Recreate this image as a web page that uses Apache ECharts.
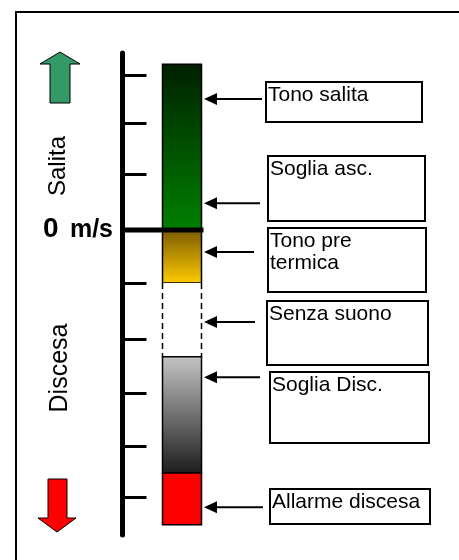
<!DOCTYPE html>
<html>
<head>
<meta charset="utf-8">
<script src="https://cdn.jsdelivr.net/npm/echarts@6/dist/echarts.min.js"></script>
<style>
html,body{margin:0;padding:0;background:#fff;}
#c{width:459px;height:560px;}
</style>
</head>
<body>
<div id="c"></div>
<script>
// ---- data (m/s scale) ----
const segNames = ['Salita', 'Pre termica', 'Senza suono', 'Discesa', 'Allarme'];
const segTop = [3.1, 0, -0.99, -2.37, -4.54];
const segBottom = [0, -0.99, -2.37, -4.54, -5.51];
const tickValues = [2.9, 2.0, 1.05, -1.0, -2.05, -3.05, -4.05, -5.0];
const arrowValues = [2.45, 0.5, -0.41, -1.72, -2.75, -5.18];
const boxLabels = ['Tono salita', 'Soglia asc.', 'Tono pre\ntermica', 'Senza suono', 'Soglia Disc.', 'Allarme discesa'];
const zeroLabelNum = '0';
const zeroLabelUnit = 'm/s';
const sideLabels = ['Salita', 'Discesa'];
const yMin = -5.7, yMax = 3.31;

// ---- layout / styles ----
const FONT = '"Liberation Sans", Arial, sans-serif';
const BAR_X0 = 40, BAR_X1 = 79, X_MAX = 81;
const ARROW_TIP = 204;
const arrowTails = [262, 260, 254, 255, 260, 263];
const boxLayout = [[266,82,156,40],[268,156,157,65],[268,228,158,64],[267,301,161,64],[270,372,159,71],[270,489,160,35]];
const segStyles = [
  {grad: ['#002000', '#008000']},
  {grad: ['#7a5a00', '#ffcc00']},
  {dashed: true},
  {grad: ['#c4c4c4', '#1c1c1c']},
  {fill: '#ff0000'}
];

const chart = echarts.init(document.getElementById('c'), null, {renderer: 'canvas'});

const graphics = [];
graphics.push({type:'rect', shape:{x:16, y:12, width:520, height:620}, style:{fill:'none', stroke:'#000', lineWidth:2}, z:0});
boxLayout.forEach((b, i) => {
  graphics.push({type:'rect', shape:{x:b[0], y:b[1], width:b[2], height:b[3]}, style:{fill:'#fff', stroke:'#000', lineWidth:2}, z:5});
  graphics.push({type:'text', x:b[0]+2, y:b[1]+2, style:{text: boxLabels[i], font: '21px ' + FONT, fill:'#000', align:'left', verticalAlign:'top', lineHeight:22}, z:6});
});
// left arrows
graphics.push({type:'polygon', shape:{points:[[60,52],[80,64],[70,64],[70,103],[50,103],[50,64],[40,64]]}, style:{fill:'#339966', stroke:'#000', lineWidth:1}, z:5});
graphics.push({type:'polygon', shape:{points:[[48,479],[67,479],[67,518],[76,518],[57,532],[38,518],[48,518]]}, style:{fill:'#ff0000', stroke:'#000', lineWidth:1}, z:5});
graphics.push({type:'text', x:58, y:166, rotation:Math.PI/2, style:{text: sideLabels[0], font:'24px ' + FONT, fill:'#000', align:'center', verticalAlign:'middle'}, z:5});
graphics.push({type:'text', x:60, y:368, rotation:Math.PI/2, style:{text: sideLabels[1], font:'25px ' + FONT, fill:'#000', align:'center', verticalAlign:'middle'}, z:5});
graphics.push({type:'text', x:43, y:243, style:{text: zeroLabelNum, font:'bold 28px ' + FONT, fill:'#000', align:'left', verticalAlign:'bottom'}, z:5});
graphics.push({type:'text', x:113, y:243, style:{text: zeroLabelUnit, font:'bold 25px ' + FONT, fill:'#000', align:'right', verticalAlign:'bottom'}, z:5});

const segData = segTop.map((t, i) => ({name: segNames[i], value: [t, segBottom[i], i]}));

chart.setOption({
  animation: false,
  backgroundColor: '#fff',
  grid: {left: 122.5, top: 53, width: X_MAX, height: 482, containLabel: false},
  xAxis: {type: 'value', min: 0, max: X_MAX, show: false},
  yAxis: {
    type: 'value', min: yMin, max: yMax,
    axisLine: {show: true, lineStyle: {color: '#000', width: 5}},
    axisTick: {show: true, inside: true, length: 24, customValues: tickValues, lineStyle: {color: '#000', width: 3}},
    axisLabel: {show: false},
    splitLine: {show: false}
  },
  graphic: graphics,
  series: [
    {
      type: 'custom', clip: false, z: 2,
      data: segData,
      renderItem: function (params, api) {
        const top = api.value(0), bot = api.value(1), idx = api.value(2);
        const p0 = api.coord([BAR_X0, top]);
        const p1 = api.coord([BAR_X1, bot]);
        const w = p1[0] - p0[0], h = p1[1] - p0[1];
        const st = segStyles[idx];
        if (st.dashed) {
          return {type: 'group', children: [
            {type: 'rect', shape: {x: p0[0], y: p0[1], width: w, height: h}, style: {fill: '#fff'}},
            {type: 'line', shape: {x1: p0[0], y1: p0[1], x2: p0[0], y2: p1[1]}, style: {stroke: '#000', lineWidth: 1.5, lineDash: [6, 4]}},
            {type: 'line', shape: {x1: p1[0], y1: p0[1], x2: p1[0], y2: p1[1]}, style: {stroke: '#000', lineWidth: 1.5, lineDash: [6, 4]}}
          ]};
        }
        const fill = st.grad ? new echarts.graphic.LinearGradient(0, 0, 0, 1, [{offset: 0, color: st.grad[0]}, {offset: 1, color: st.grad[1]}]) : st.fill;
        return {type: 'rect', shape: {x: p0[0], y: p0[1], width: w, height: h}, style: {fill: fill, stroke: '#000', lineWidth: 1.5}};
      }
    },
    {
      type: 'custom', clip: false, z: 3,
      data: [[0]],
      renderItem: function (params, api) {
        const a = api.coord([0, api.value(0)]);
        const b = api.coord([X_MAX, api.value(0)]);
        return {type: 'line', shape: {x1: a[0], y1: a[1], x2: b[0], y2: b[1]}, style: {stroke: '#000', lineWidth: 5}};
      }
    },
    {
      type: 'custom', clip: false, z: 4,
      data: arrowValues.map((v, i) => [v, i]),
      renderItem: function (params, api) {
        const y = api.coord([0, api.value(0)])[1];
        const tail = arrowTails[api.value(1)];
        return {type: 'group', children: [
          {type: 'line', shape: {x1: tail, y1: y, x2: ARROW_TIP + 10, y2: y}, style: {stroke: '#000', lineWidth: 2}},
          {type: 'polygon', shape: {points: [[ARROW_TIP, y], [ARROW_TIP + 13, y - 6], [ARROW_TIP + 13, y + 6]]}, style: {fill: '#000'}}
        ]};
      }
    }
  ]
});
</script>
</body>
</html>
